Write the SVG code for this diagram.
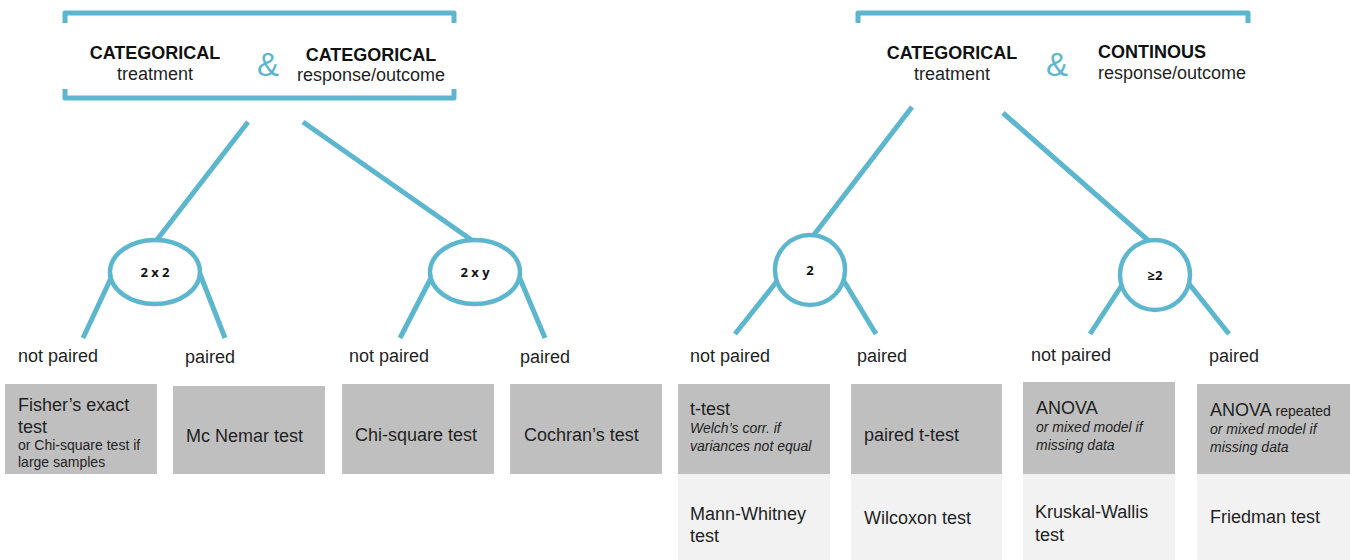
<svg xmlns="http://www.w3.org/2000/svg" width="1350" height="560" viewBox="0 0 1350 560">
<style>
.ln{stroke:#5cb6cd;stroke-width:5;fill:none;stroke-linecap:butt}
.br{stroke:#5cb6cd;stroke-width:5;fill:none;stroke-linejoin:round}
.el{stroke:#5cb6cd;stroke-width:4.5;fill:#fff}
.t{font-family:"Liberation Sans",Arial,sans-serif;fill:#1f1f1f}
.h{font-family:"Liberation Sans",Arial,sans-serif;font-weight:bold;font-size:18px;fill:#111}
.s{font-size:18px}
.sm{font-size:14px}
.it{font-size:14px;font-style:italic}
.amp{font-family:"Liberation Sans",Arial,sans-serif;font-size:33px;fill:#5cb6cd}
.el-t{font-family:"Open Sans","DejaVu Sans",sans-serif;font-weight:bold;font-size:13px;fill:#111}
.dk{fill:#bfbfbf}
.lt{fill:#f2f2f2}
</style>
<g id="connectors">
<line class="ln" x1="248" y1="122" x2="156" y2="241"/>
<line class="ln" x1="303" y1="122" x2="473" y2="241"/>
<line class="ln" x1="112" y1="276" x2="83" y2="338"/>
<line class="ln" x1="200" y1="274" x2="225" y2="338"/>
<line class="ln" x1="432" y1="276" x2="400" y2="338"/>
<line class="ln" x1="518" y1="274" x2="545" y2="338"/>
<line class="ln" x1="912" y1="107" x2="813" y2="236"/>
<line class="ln" x1="1003" y1="113" x2="1150" y2="242"/>
<line class="ln" x1="778" y1="280" x2="735" y2="334"/>
<line class="ln" x1="842" y1="278" x2="876" y2="334"/>
<line class="ln" x1="1124" y1="282" x2="1090" y2="334"/>
<line class="ln" x1="1186" y1="280" x2="1229" y2="334"/>
</g>
<g id="header-left">
<path class="br" d="M65 23 V13 H454 V23"/>
<path class="br" d="M65 89 V98 H454 V89"/>
<text class="h" x="155" y="59" text-anchor="middle">CATEGORICAL</text>
<text class="t s" x="155" y="80" text-anchor="middle">treatment</text>
<text class="amp" x="268" y="76" text-anchor="middle">&amp;</text>
<text class="h" x="371" y="61" text-anchor="middle">CATEGORICAL</text>
<text class="t s" x="371" y="81" text-anchor="middle">response/outcome</text>
</g>
<g id="header-right">
<path class="br" d="M858 23 V13 H1248 V23"/>
<text class="h" x="952" y="59" text-anchor="middle">CATEGORICAL</text>
<text class="t s" x="952" y="80" text-anchor="middle">treatment</text>
<text class="amp" x="1057" y="76" text-anchor="middle">&amp;</text>
<text class="h" x="1098" y="58">CONTINOUS</text>
<text class="t s" x="1098" y="79">response/outcome</text>
</g>
<g id="node-2x2">
<ellipse class="el" cx="155" cy="272" rx="45" ry="32"/>
<text class="el-t" x="155" y="277" text-anchor="middle">2 x 2</text>
</g>
<g id="node-2xy">
<ellipse class="el" cx="475" cy="272" rx="45" ry="32"/>
<text class="el-t" x="475" y="277" text-anchor="middle">2 x y</text>
</g>
<g id="node-2">
<ellipse class="el" cx="810" cy="270" rx="35" ry="35"/>
<text class="el-t" x="810" y="275" text-anchor="middle">2</text>
</g>
<g id="node-ge2">
<ellipse class="el" cx="1155" cy="275" rx="35" ry="35"/>
<text class="el-t" x="1155" y="280" text-anchor="middle">≥2</text>
</g>
<g id="labels">
<text class="t s" x="18" y="362">not paired</text>
<text class="t s" x="185" y="363">paired</text>
<text class="t s" x="349" y="362">not paired</text>
<text class="t s" x="520" y="363">paired</text>
<text class="t s" x="690" y="362">not paired</text>
<text class="t s" x="857" y="362">paired</text>
<text class="t s" x="1031" y="361">not paired</text>
<text class="t s" x="1209" y="362">paired</text>
</g>
<g id="box-fisher">
<rect class="dk" x="5" y="384" width="152" height="90"/>
<text class="t s" x="18" y="411">Fisher’s exact</text>
<text class="t s" x="18" y="433">test</text>
<text class="t sm" x="18" y="450">or Chi-square test if</text>
<text class="t sm" x="18" y="467">large samples</text>
</g>
<g id="box-mcnemar">
<rect class="dk" x="173" y="386" width="152" height="88"/>
<text class="t s" x="186" y="442">Mc Nemar test</text>
</g>
<g id="box-chisq">
<rect class="dk" x="342" y="384" width="152" height="90"/>
<text class="t s" x="355" y="441">Chi-square test</text>
</g>
<g id="box-cochran">
<rect class="dk" x="510" y="384" width="152" height="90"/>
<text class="t s" x="524" y="441">Cochran’s test</text>
</g>
<g id="box-ttest">
<rect class="dk" x="678" y="384" width="152" height="90"/>
<text class="t s" x="690" y="415">t-test</text>
<text class="t it" x="690" y="433">Welch’s corr. if</text>
<text class="t it" x="690" y="451">variances not equal</text>
</g>
<g id="box-paired-ttest">
<rect class="dk" x="851" y="384" width="151" height="90"/>
<text class="t s" x="864" y="441">paired t-test</text>
</g>
<g id="box-anova">
<rect class="dk" x="1023" y="382" width="152" height="92"/>
<text class="t s" x="1036" y="414">ANOVA</text>
<text class="t it" x="1036" y="432">or mixed model if</text>
<text class="t it" x="1036" y="450">missing data</text>
</g>
<g id="box-anova-rep">
<rect class="dk" x="1197" y="384" width="153" height="90"/>
<text class="t s" x="1210" y="416">ANOVA<tspan class="sm"> repeated</tspan></text>
<text class="t it" x="1210" y="434">or mixed model if</text>
<text class="t it" x="1210" y="452">missing data</text>
</g>
<g id="box-mann">
<rect class="lt" x="678" y="474" width="152" height="86"/>
<text class="t s" x="690" y="520">Mann-Whitney</text>
<text class="t s" x="690" y="542">test</text>
</g>
<g id="box-wilcoxon">
<rect class="lt" x="851" y="474" width="151" height="86"/>
<text class="t s" x="864" y="524">Wilcoxon test</text>
</g>
<g id="box-kruskal">
<rect class="lt" x="1023" y="474" width="152" height="86"/>
<text class="t s" x="1035" y="518">Kruskal-Wallis</text>
<text class="t s" x="1035" y="541">test</text>
</g>
<g id="box-friedman">
<rect class="lt" x="1197" y="474" width="153" height="86"/>
<text class="t s" x="1210" y="523">Friedman test</text>
</g>
</svg>
